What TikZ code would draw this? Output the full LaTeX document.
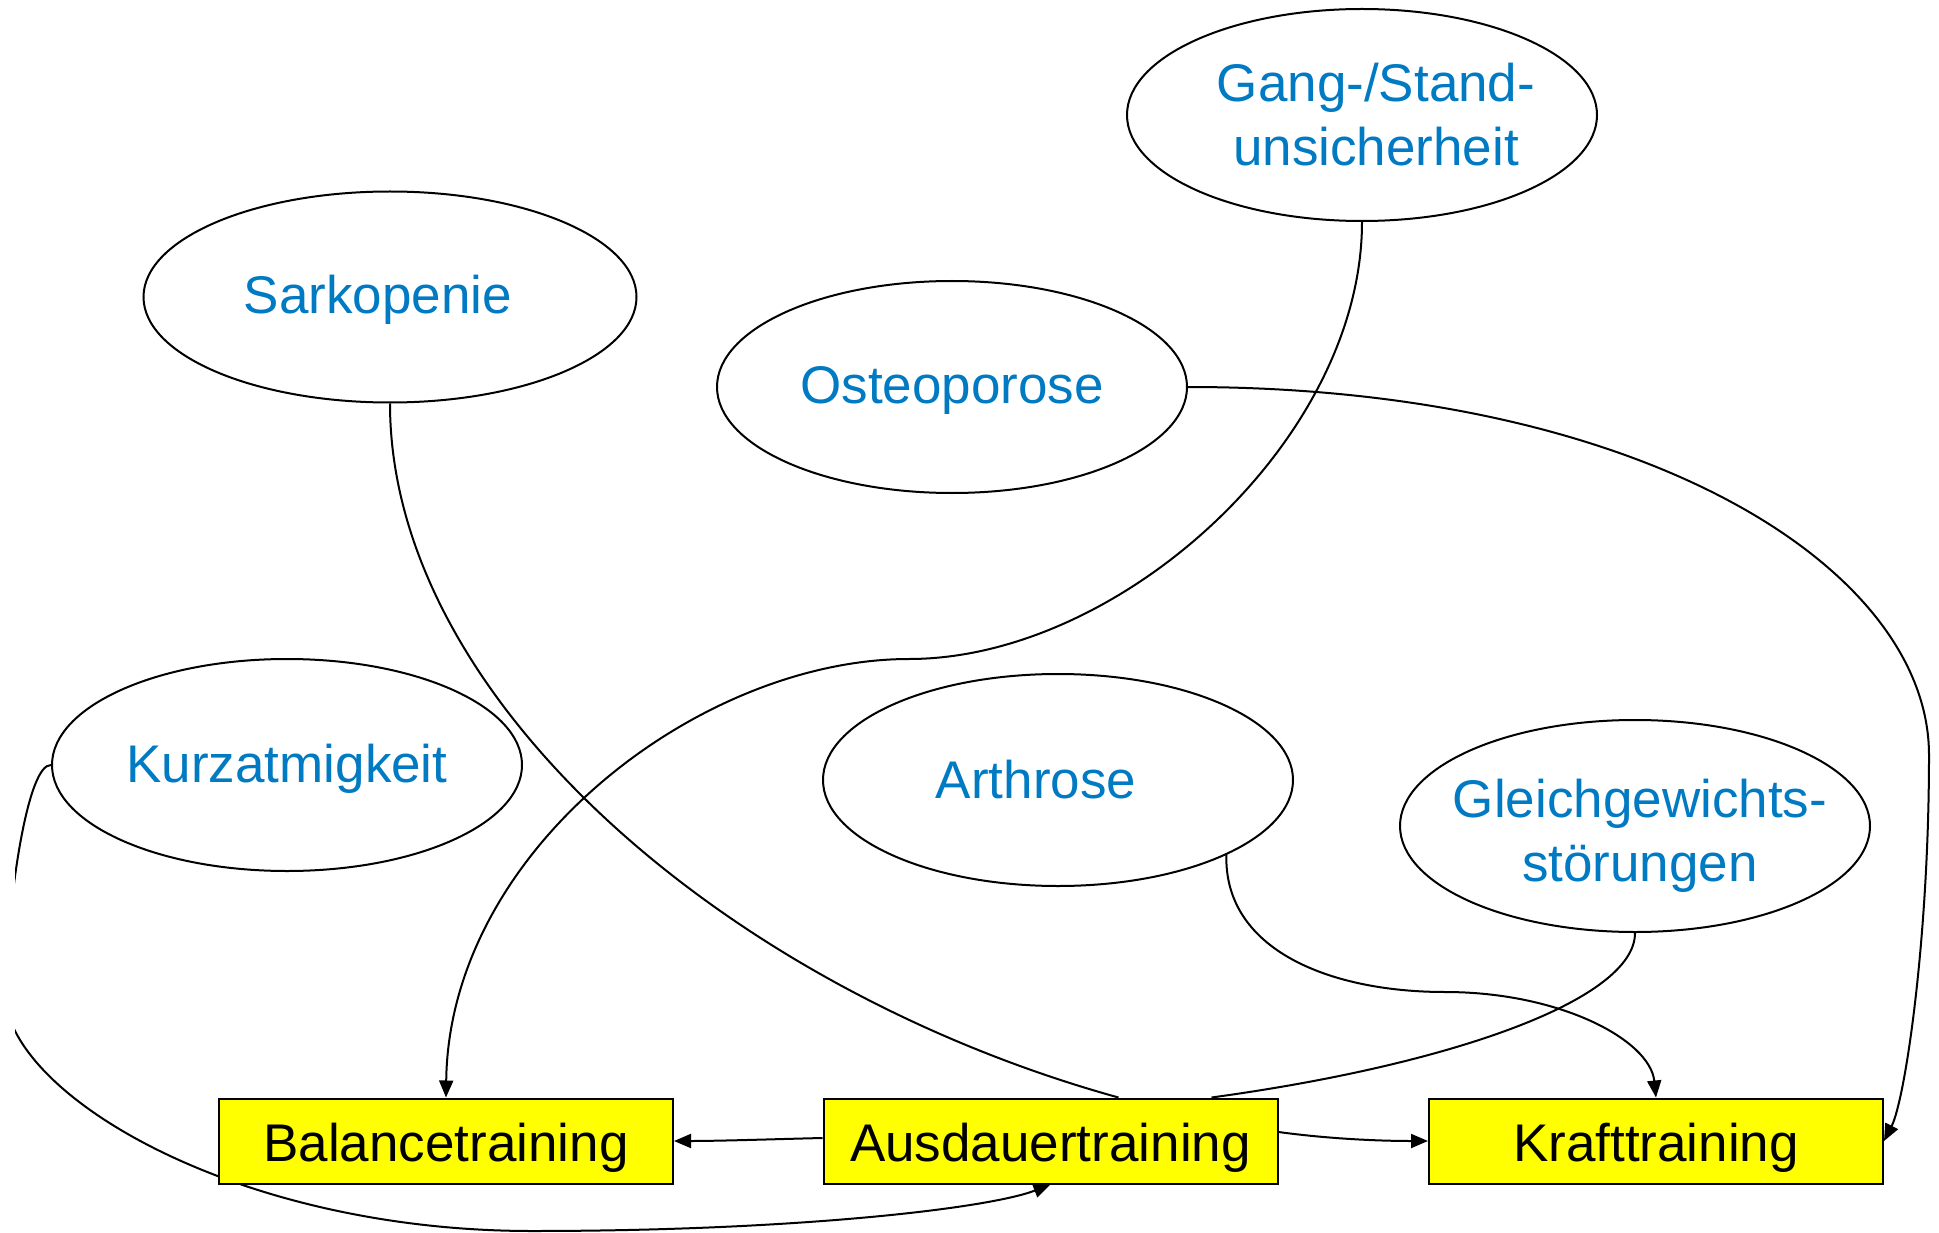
\documentclass[tikz,border=0pt]{standalone}
\usepackage{fontspec}
\setmainfont{Liberation Sans}
\usetikzlibrary{arrows.meta,shapes.geometric}
\definecolor{txtblue}{RGB}{0,122,194}
\definecolor{boxyellow}{RGB}{255,255,0}
\tikzset{
  ell/.style={ellipse,draw=black,line width=2pt,fill=white,inner sep=0pt,minimum width=470pt,minimum height=212pt},
  lbl/.style={text=txtblue,font=\fontsize{53}{64}\selectfont,align=center,inner sep=0pt},
  trainbox/.style={rectangle,draw=black,line width=2pt,fill=boxyellow,inner sep=0pt,minimum width=454pt,minimum height=85pt,font=\fontsize{53}{64}\selectfont,text=black,text height=41pt,text depth=0pt},
  conn/.style={draw=black,line width=2pt},
  arr/.style={conn,-{Triangle[length=17pt,width=14pt]}}
}
\begin{document}
\begin{tikzpicture}[x=1pt,y=-1pt]
\useasboundingbox[fill=white] (0,0) rectangle (1939,1233);
% ellipses
\node[ell,minimum width=493pt,minimum height=211pt] (sark) at (390,297) {};
\node[ell] (osteo) at (952,387) {};
\node[ell] (gang) at (1362,115) {};
\node[ell] (kurz) at (287,765) {};
\node[ell] (arth) at (1058,780) {};
\node[ell] (gleich) at (1635,826) {};
% boxes
\node[trainbox] (bal) at (446,1141) {Balancetraining};
\node[trainbox] (ausd) at (1050.5,1141) {Ausdauertraining};
\node[trainbox] (kraft) at (1656,1141) {Krafttraining};
% connectors
\begin{scope}
\clip (15,0) rectangle (1939,1233);
\draw[arr] (kurz.west) .. controls (28,764) and (9,890) .. (5,990)
  .. controls (1,1090) and (230,1231) .. (532,1231)
  .. controls (800,1231) and (990,1208) .. (ausd.south);
\end{scope}
\draw[arr] (gang.south) .. controls (1362,440) and (1120,659) .. (909,659)
  .. controls (700,659) and (449,850) .. (bal.north);
\draw[arr] (osteo.east) .. controls (1645,387) and (1929,569) .. (1929,755)
  .. controls (1929,940) and (1905,1100) .. (kraft.east);
\draw[conn] (sark.south) .. controls (390,700) and (730,990) .. ([xshift=68pt]ausd.north);
\draw[arr] (arth.-24) .. controls (1224,950) and (1330,992) .. (1445,992)
  .. controls (1560,992) and (1650,1040) .. (kraft.north);
\draw[conn] (gleich.south) .. controls (1635,1000) and (1450,1065) .. ([xshift=161pt]ausd.north);
\draw[arr] ([yshift=3pt]ausd.west) .. controls (780,1139) and (720,1141) .. (bal.east);
\draw[arr] ([yshift=9pt]ausd.east) .. controls (1330,1139) and (1380,1141) .. (kraft.west);
% redraw boxes on top
\node[trainbox] at (bal) {Balancetraining};
\node[trainbox] at (ausd) {Ausdauertraining};
\node[trainbox] at (kraft) {Krafttraining};
% labels
\node[lbl,anchor=base] (tsark) at (378,314) {Sarkopenie};
\node[lbl,anchor=base] (tosteo) at (952,403) {Osteoporose};
\node[lbl] (tgang) at (1376,115) {Gang-/Stand-\\unsicherheit};
\node[lbl,anchor=base] (tkurz) at (287,782) {Kurzatmigkeit};
\node[lbl,anchor=base] (tarth) at (1036,798) {Arthrose};
\node[lbl] (tgleich) at (1640,836) {Gleichgewichts-\\störungen};
\end{tikzpicture}
\end{document}
